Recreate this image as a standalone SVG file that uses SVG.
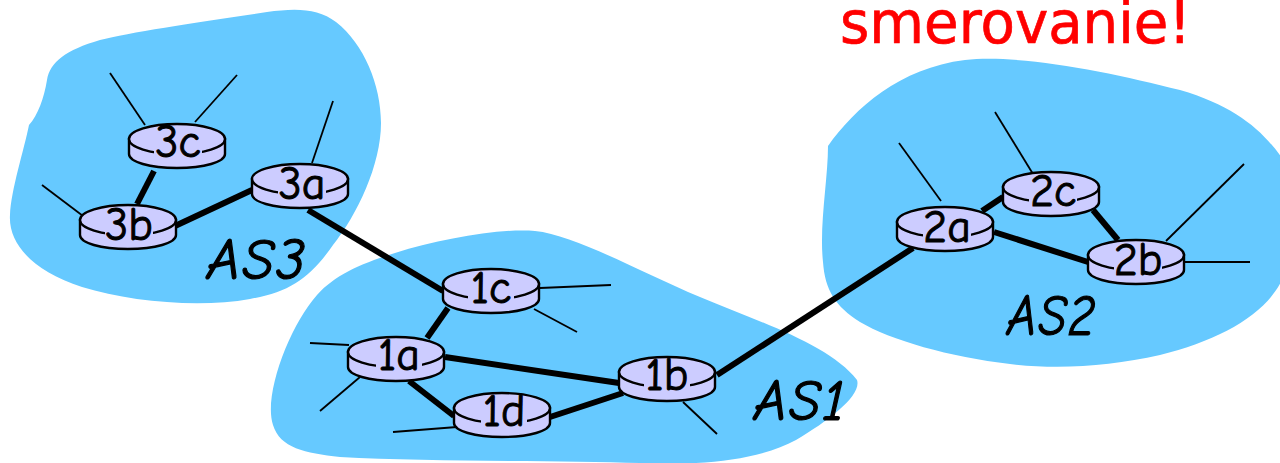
<svg xmlns="http://www.w3.org/2000/svg" width="1280" height="463" viewBox="0 0 1280 463">
<style>
.as{fill:#66c9ff;stroke:none}
.trunk{stroke:#000;stroke-width:6;fill:none}
.stub{stroke:#000;stroke-width:1.8;fill:none}
.bg{fill:#ccf}
.rl{font-family:"Comic Sans MS","Comic Neue","Open Sans",sans-serif;font-size:46px;fill:#000;stroke:#000;stroke-width:1;text-anchor:middle}
.asl{font-family:"Comic Sans MS","Comic Neue","Open Sans",sans-serif;font-size:58px;font-style:italic;fill:#000;stroke:#000;stroke-width:1.2;letter-spacing:2px}
.title{font-family:"DejaVu Sans",Verdana,sans-serif;font-size:58px;fill:#f00;stroke:#f00;stroke-width:.7}
</style>
<defs>
<g id="router">
<path d="M1 16V31C1 39 22 45 49 45S97 39 97 31V16Z" fill="#ccf" stroke="#000" stroke-width="2.4"/>
<ellipse cx="49" cy="16" rx="48" ry="15" fill="#ccf" stroke="#000" stroke-width="2.4"/>
</g>
</defs>
<rect width="1280" height="463" fill="#fff"/>
<g id="clouds">
<path id="cloud-as3" class="as" d="M29 125C38 115 44 98 47 80C50 62 66 50 100 40C130 32 200 22 267 12C295 8 318 8 336 22C364 44 381 85 381 123C381 165 357 215 333 245C310 278 290 292 250 299C200 308 130 302 82 287C35 272 8 245 10 215C11 190 24 150 29 125Z"/>
<path id="cloud-as1" class="as" d="M317 295C335 275 360 264 395 253C440 239 500 228 535 231C575 235 640 272 700 297C760 322 830 345 857 380C862 395 830 420 796 440C760 460 700 466 640 463C560 460 430 462 340 457C305 453 280 448 273 425C263 395 290 325 317 295Z"/>
<path id="cloud-as2" class="as" d="M828 146C855 108 900 68 965 60C1020 54 1110 72 1180 90C1235 106 1262 130 1282 158V280C1265 315 1220 340 1160 355C1110 366 1060 370 1010 364C950 357 890 340 860 322C835 306 825 290 823 262C819 225 828 180 828 146Z"/>
</g>
<text id="title" class="title" x="840" y="43" textLength="351" lengthAdjust="spacingAndGlyphs">smerovanie!</text>
<g id="connectors">
<line class="trunk" x1="154" y1="171" x2="137" y2="204"/>
<line class="trunk" x1="175" y1="226" x2="252" y2="190"/>
<line class="trunk" x1="308" y1="210" x2="443" y2="291"/>
<line class="trunk" x1="448" y1="308" x2="427" y2="338"/>
<line class="trunk" x1="445" y1="357" x2="619" y2="383"/>
<line class="trunk" x1="409" y1="381" x2="454" y2="416"/>
<line class="trunk" x1="550" y1="417" x2="623" y2="393"/>
<line class="trunk" x1="717" y1="375" x2="913" y2="248"/>
<line class="trunk" x1="982" y1="211" x2="1003" y2="197"/>
<line class="trunk" x1="994" y1="232" x2="1088" y2="262"/>
<line class="trunk" x1="1093" y1="210" x2="1118" y2="240"/>
<line class="stub" x1="110" y1="73" x2="145" y2="125"/>
<line class="stub" x1="237" y1="75" x2="195" y2="122"/>
<line class="stub" x1="333" y1="101" x2="312" y2="163"/>
<line class="stub" x1="42" y1="185" x2="87" y2="219"/>
<line class="stub" x1="540" y1="288" x2="611" y2="285"/>
<line class="stub" x1="534" y1="309" x2="577" y2="332"/>
<line class="stub" x1="310" y1="343" x2="349" y2="345"/>
<line class="stub" x1="360" y1="377" x2="320" y2="411"/>
<line class="stub" x1="393" y1="432" x2="457" y2="427"/>
<line class="stub" x1="683" y1="402" x2="717" y2="434"/>
<line class="stub" x1="899" y1="143" x2="941" y2="201"/>
<line class="stub" x1="995" y1="112" x2="1033" y2="174"/>
<line class="stub" x1="1244" y1="164" x2="1166" y2="241"/>
<line class="stub" x1="1185" y1="262" x2="1250" y2="262"/>
</g>
<g id="node-3c"><use href="#router" x="128" y="123"/><rect class="bg" x="154" y="140" width="48" height="18"/><text class="rl" x="178" y="157">3c</text></g>
<g id="node-3a"><use href="#router" x="251" y="163"/><rect class="bg" x="278" y="180" width="48" height="18"/><text class="rl" x="302" y="199">3a</text></g>
<g id="node-3b"><use href="#router" x="79" y="204"/><rect class="bg" x="105" y="221" width="48" height="18"/><text class="rl" x="129" y="240">3b</text></g>
<g id="node-1c"><use href="#router" x="442" y="268"/><rect class="bg" x="468" y="285" width="46" height="17"/><text class="rl" x="491" y="303">1c</text></g>
<g id="node-1a"><use href="#router" x="347" y="336"/><rect class="bg" x="376" y="353" width="46" height="17"/><text class="rl" x="399" y="370">1a</text></g>
<g id="node-1b"><use href="#router" x="618" y="356"/><rect class="bg" x="644" y="373" width="46" height="17"/><text class="rl" x="667" y="390">1b</text></g>
<g id="node-1d"><use href="#router" x="453" y="392"/><rect class="bg" x="481" y="409" width="46" height="17"/><text class="rl" x="504" y="426">1d</text></g>
<g id="node-2c"><use href="#router" x="1002" y="171"/><rect class="bg" x="1029" y="188" width="48" height="18"/><text class="rl" x="1053" y="206">2c</text></g>
<g id="node-2a"><use href="#router" x="896" y="206"/><rect class="bg" x="923" y="223" width="48" height="18"/><text class="rl" x="947" y="242">2a</text></g>
<g id="node-2b"><use href="#router" x="1087" y="239"/><rect class="bg" x="1114" y="256" width="48" height="18"/><text class="rl" x="1138" y="275">2b</text></g>
<text id="label-as3" class="asl" x="207" y="279" textLength="100" lengthAdjust="spacingAndGlyphs">AS3</text>
<text id="label-as1" class="asl" x="754" y="420" textLength="93" lengthAdjust="spacingAndGlyphs">AS1</text>
<text id="label-as2" class="asl" x="1007" y="335" textLength="90" lengthAdjust="spacingAndGlyphs">AS2</text>
</svg>
